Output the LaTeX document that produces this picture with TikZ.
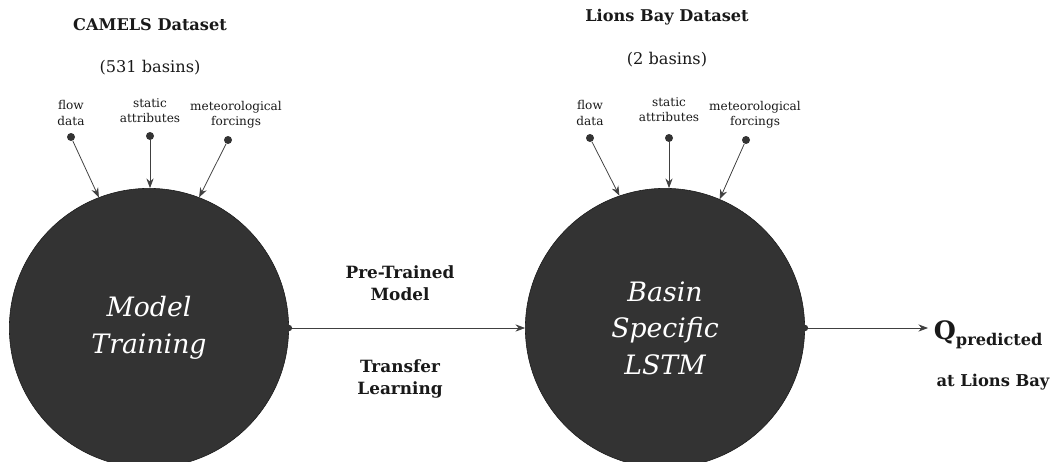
\documentclass[tikz,border=0pt]{standalone}
\usepackage{fontspec}
\setmainfont{DejaVu Serif}
\usetikzlibrary{positioning,arrows.meta}
\tikzset{
  stage/.style={circle, fill=black!80, draw=black!90, minimum size=6.98cm, inner sep=0pt,
    text=white, font=\fontsize{19}{26}\selectfont\itshape, align=center},
  src/.style={circle, fill=black!80, inner sep=0pt, minimum size=0.2cm},
  port/.style={circle, fill=black!80, inner sep=0pt, minimum size=0.16cm},
  inlbl/.style={font=\fontsize{8.6}{10.8}\selectfont, align=center, text=black!90},
  title/.style={font=\fontsize{11.5}{14}\selectfont\bfseries, text=black!90},
  sub/.style={font=\fontsize{11.5}{14}\selectfont, text=black!90},
  midlbl/.style={font=\fontsize{12}{16}\selectfont\bfseries, align=center, text=black!90},
  feed/.style={-{Stealth[length=2.4mm,width=1.8mm]}, black!75, line width=0.55pt}
}
\begin{document}
\begin{tikzpicture}[x=0.025cm,y=-0.025cm]
    \useasboundingbox (0,0) rectangle (1056,461);

    % circles
    \node[stage] (train) at (149,328) {Model\\Training};
    \node[stage] (lstm) at (665,328) {Basin\\Specific\\LSTM};

    % datasets
    \node[title] (camels) at (150,25) {CAMELS Dataset};
    \node[sub] (camelsn) at (150,68) {(531 basins)};
    \node[title] (lions) at (667,17) {Lions Bay Dataset};
    \node[sub] (lionsn) at (667,60) {(2 basins)};

    % inputs, left
    \node[inlbl] at (71,113) {flow\\data};
    \node[inlbl] at (150,111) {static\\attributes};
    \node[inlbl] at (236,115) {meteorological\\forcings};
    \node[src] (lflow) at (71,137) {};
    \node[src] (lstat) at (150,136) {};
    \node[src] (lmet) at (228,140) {};
    \draw[feed] (lflow) -- (train.111);
    \draw[feed] (lstat) -- (lstat |- train.north);
    \draw[feed] (lmet) -- (train.69);

    % inputs, right
    \node[inlbl] at (590,113) {flow\\data};
    \node[inlbl] at (669,110) {static\\attributes};
    \node[inlbl] at (755,115) {meteorological\\forcings};
    \node[src] (rflow) at (590,138) {};
    \node[src] (rstat) at (669,138) {};
    \node[src] (rmet) at (746,140) {};
    \draw[feed] (rflow) -- (lstm.109);
    \draw[feed] (rstat) -- (rstat |- lstm.north);
    \draw[feed] (rmet) -- (lstm.67);

    % transfer
    \node[port] (tout) at (train.east) {};
    \draw[feed] (tout) -- (tout -| lstm.west);
    \node[midlbl] at (400,283) {Pre-Trained\\Model};
    \node[midlbl] at (400,379) {Transfer\\Learning};

    % output
    \node[port] (lout) at (lstm.east) {};
    \node[anchor=west, inner ysep=0pt, inner xsep=4pt, text=black!90] (qpred) at (928,335)
      {\fontsize{18}{20}\selectfont\bfseries Q\raisebox{-0.45ex}{\fontsize{11.5}{13}\selectfont predicted}};
    \node[midlbl, font=\fontsize{11.6}{16}\selectfont\bfseries] (qloc) at (993,382) {at Lions Bay};
    \draw[feed] (lout) -- (lout -| qpred.west);
\end{tikzpicture}
\end{document}
